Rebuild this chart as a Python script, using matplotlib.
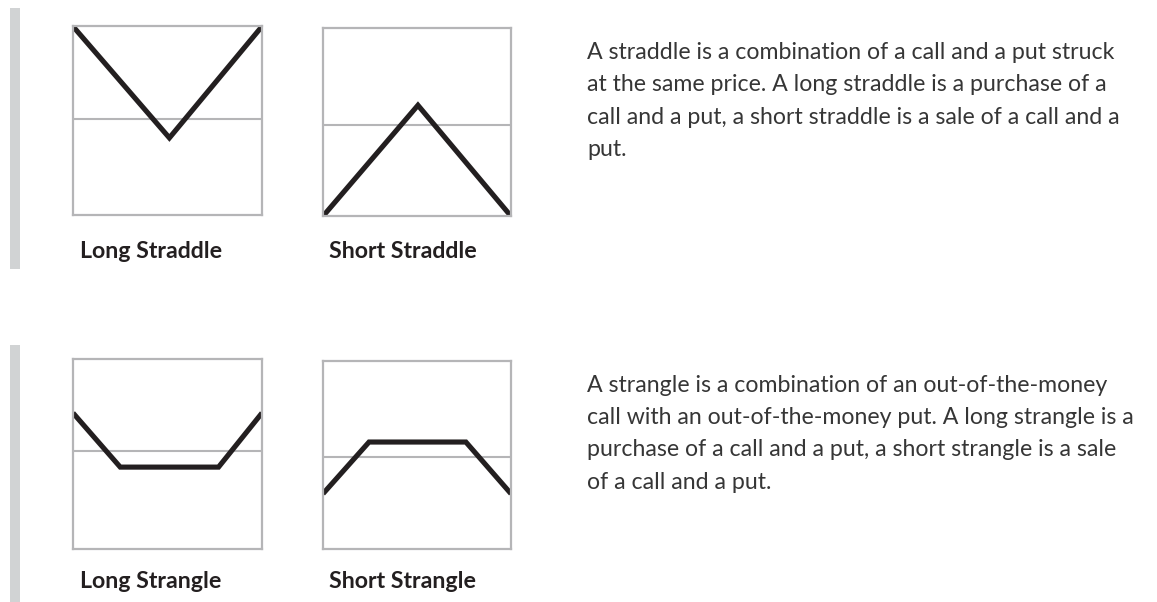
import matplotlib
matplotlib.use('Agg')
import matplotlib.pyplot as plt
from matplotlib.patches import Rectangle

W, H = 1157, 602

# payoff shapes (x = underlying 0..1, y = payoff, 0 = break-even line)
long_straddle_x = [0.0, 0.51, 1.0]
long_straddle_y = [0.98, -0.20, 0.98]
short_straddle_x = [0.0, 0.505, 1.0]
short_straddle_y = [-0.97, 0.21, -0.97]
long_strangle_x = [0.0, 0.25, 0.77, 1.0]
long_strangle_y = [0.40, -0.17, -0.17, 0.40]
short_strangle_x = [0.0, 0.245, 0.76, 1.0]
short_strangle_y = [-0.39, 0.16, 0.16, -0.39]

labels = ['Long Straddle', 'Short Straddle', 'Long Strangle', 'Short Strangle']

straddle_text = [
    'A straddle is a combination of a call and a put struck',
    'at the same price. A long straddle is a purchase of a',
    'call and a put, a short straddle is a sale of a call and a',
    'put.',
]
strangle_text = [
    'A strangle is a combination of an out-of-the-money',
    'call with an out-of-the-money put. A long strangle is a',
    'purchase of a call and a put, a short strangle is a sale',
    'of a call and a put.',
]

# panel boxes in pixels: left, top, right, bottom, ylim
panels = [
    (long_straddle_x, long_straddle_y, (73, 26, 262, 215), (-1.016, 0.984)),
    (short_straddle_x, short_straddle_y, (323, 28, 511, 216), (-0.968, 1.032)),
    (long_strangle_x, long_strangle_y, (73, 359, 262, 549), (-1.032, 0.968)),
    (short_strangle_x, short_strangle_y, (323, 361, 511, 549), (-0.978, 1.022)),
]
label_pos = [(80, 258), (329, 258), (80, 588), (329, 588)]

grey = '#b5b5b7'
ink = '#231f20'
body = '#363636'

fig = plt.figure(figsize=(W / 100, H / 100), dpi=100)

def px_box(l, t, r, b):
    return [l / W, 1 - b / H, (r - l) / W, (b - t) / H]

# grey side bars
bg = fig.add_axes([0, 0, 1, 1])
bg.set_xlim(0, W)
bg.set_ylim(H, 0)
bg.axis('off')
bg.add_patch(Rectangle((10, 8), 10, 261, color='#d1d3d4', lw=0))
bg.add_patch(Rectangle((10, 345), 10, 257, color='#d1d3d4', lw=0))

for (xs, ys, box, yl) in panels:
    ax = fig.add_axes(px_box(*box))
    ax.axhline(0, color=grey, lw=1.5, zorder=1)
    ax.plot(xs, ys, color=ink, lw=3.7, solid_capstyle='butt',
            solid_joinstyle='miter', zorder=2)
    ax.set_xlim(0, 1)
    ax.set_ylim(*yl)
    ax.set_xticks([])
    ax.set_yticks([])
    for sp in ax.spines.values():
        sp.set_color(grey)
        sp.set_linewidth(1.6)

for lab, (x, y) in zip(labels, label_pos):
    bg.text(x, y, lab, fontsize=16.7, fontweight='bold', family='Lato',
            color=ink, va='baseline', ha='left')

for i, line in enumerate(straddle_text):
    bg.text(587, 59 + i * 32.3, line, fontsize=16.7, family='Lato',
            color=body, va='baseline', ha='left')
for i, line in enumerate(strangle_text):
    bg.text(587, 392 + i * 32.2, line, fontsize=16.7, family='Lato',
            color=body, va='baseline', ha='left')

fig.savefig('out.png', dpi=100)
